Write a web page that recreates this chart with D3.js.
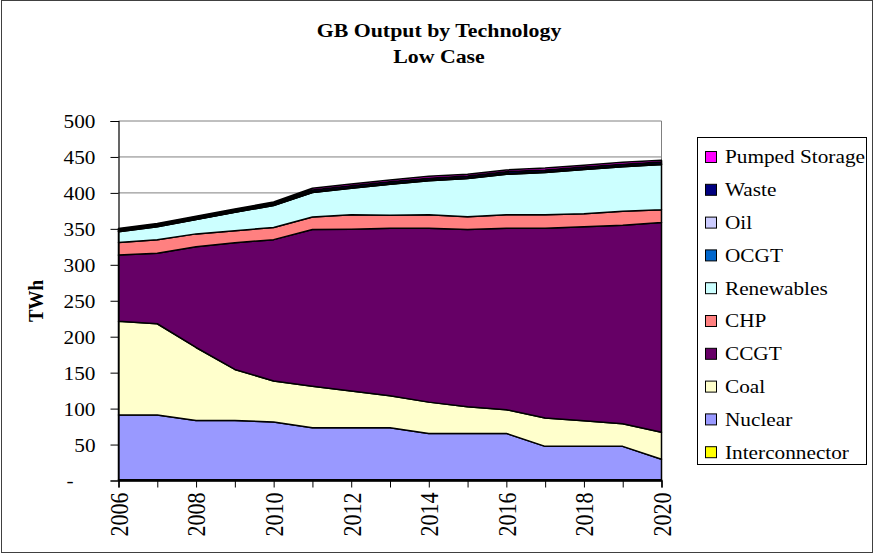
<!DOCTYPE html>
<html>
<head>
<meta charset="utf-8">
<script src="https://cdn.jsdelivr.net/npm/d3@7"></script>
<style>
  html, body { margin: 0; padding: 0; background: #fff; }
  svg { display: block; }
  text { font-family: "Liberation Serif", "Times New Roman", serif; fill: #000; }
</style>
</head>
<body>
<svg id="chart" width="874" height="555"></svg>
<script>
// ---- data ----
const years = [2006, 2007, 2008, 2009, 2010, 2011, 2012, 2013, 2014, 2015, 2016, 2017, 2018, 2019, 2020];
const interconnector = [1, 1, 1, 1, 1, 1, 1, 1, 1, 1, 1, 1, 1, 1, 1];
const nuclear = [90, 90, 82.5, 82.5, 80.5, 72.5, 72.5, 72.5, 64.5, 64.5, 64.5, 46.5, 46.5, 46.5, 28.5];
const coal = [130.5, 127, 101.5, 71, 57, 57.5, 51, 44.5, 43.5, 37, 33, 39.5, 35.5, 31.5, 37.5];
const ccgt = [92, 98, 140, 176, 196.5, 218, 225, 233, 242, 246.5, 252.5, 264, 270, 276, 292];
const chp = [17.5, 19, 18, 17, 17, 17.5, 20, 18, 18.5, 18, 18.5, 18.5, 18, 19.5, 17.5];
const renewables = [15, 18, 20, 25.5, 30.5, 34, 37, 43, 47.5, 53, 56.5, 59, 61.5, 62, 63];
const ocgt = [0.5, 0.5, 0.5, 0.5, 0.5, 0.5, 0.5, 0.5, 0.5, 0.5, 0.5, 0.5, 0.5, 0.5, 0.5];
const oil = [1.5, 1.5, 1.5, 1.5, 1, 0.5, 0.5, 0.5, 0.5, 0.5, 0.5, 0.5, 0.5, 0.5, 0.5];
const waste = [1.5, 1.5, 1.5, 1.5, 2, 2.5, 2.5, 2.5, 2.5, 2.5, 2.5, 2.5, 2.5, 2.5, 2.5];
const pumpedStorage = [1, 1, 1, 1, 1.5, 2.5, 2.5, 2.5, 2.5, 2.5, 2.5, 2.5, 2.5, 2.5, 2.5];

// series bottom -> top
const seriesNames = ["Interconnector", "Nuclear", "Coal", "CCGT", "CHP", "Renewables", "OCGT", "Oil", "Waste", "Pumped Storage"];
const seriesValues = [interconnector, nuclear, coal, ccgt, chp, renewables, ocgt, oil, waste, pumpedStorage];
const seriesColors = ["#FFFF00", "#9999FF", "#FFFFCC", "#660066", "#FF8080", "#CCFFFF", "#0066CC", "#CCCCFF", "#000080", "#FF00FF"];

const yTicks = [0, 50, 100, 150, 200, 250, 300, 350, 400, 450, 500];
const yTickLabels = ["-", "50", "100", "150", "200", "250", "300", "350", "400", "450", "500"];
const xLabelYears = [2006, 2008, 2010, 2012, 2014, 2016, 2018, 2020];

const titleLines = ["GB Output by Technology", "Low Case"];
const yAxisTitle = "TWh";

// ---- build ----
const svg = d3.select("#chart");
const SX = 1.15; // horizontal stretch of text in the reference

svg.append("rect").attr("x", 1.5).attr("y", 0.5).attr("width", 871).attr("height", 552)
  .attr("fill", "#fff").attr("stroke", "#404040").attr("stroke-width", 1);

const x = d3.scaleLinear().domain([2006, 2020]).range([118.5, 661.5]);
const y = d3.scaleLinear().domain([0, 500]).range([480.5, 121]);

// gridlines
svg.append("g").selectAll("line").data(yTicks.filter(d => d > 0)).join("line")
  .attr("x1", x(2006)).attr("x2", x(2020))
  .attr("y1", d => y(d)).attr("y2", d => y(d))
  .attr("stroke", "#808080").attr("stroke-width", 1);
svg.append("line").attr("x1", x(2020)).attr("x2", x(2020)).attr("y1", y(500)).attr("y2", y(0))
  .attr("stroke", "#808080").attr("stroke-width", 1);

// stacked areas
const rows = years.map((yr, i) => {
  const r = { year: yr };
  seriesNames.forEach((n, k) => { r[n] = seriesValues[k][i]; });
  return r;
});
const stack = d3.stack().keys(seriesNames);
const stacked = stack(rows);
const area = d3.area()
  .x(d => x(d.data.year))
  .y0(d => y(d[0]))
  .y1(d => y(d[1]));

svg.append("g").selectAll("path").data(stacked).join("path")
  .attr("d", area)
  .attr("fill", (d, i) => seriesColors[i])
  .attr("stroke", "#000")
  .attr("stroke-width", 1.5)
  .attr("stroke-linejoin", "round");

// y axis
const yAxis = svg.append("g").attr("transform", "translate(118.5,0)")
  .call(d3.axisLeft(y).tickValues(yTicks).tickSize(8).tickPadding(0)
    .tickFormat((d, i) => yTickLabels[i]));
yAxis.select(".domain").attr("stroke", "#000").attr("stroke-width", 1.2);
yAxis.selectAll(".tick line").attr("stroke", "#000");
yAxis.selectAll(".tick text")
  .attr("x", d => (d === 0 ? -45 : -23) / SX)
  .attr("dy", "0.35em")
  .attr("transform", `scale(${SX},1)`)
  .style("font-size", "18.5px")
  .style("font-family", "'Liberation Serif', 'Times New Roman', serif");

// x axis
const xAxis = svg.append("g").attr("transform", "translate(0,480.5)")
  .call(d3.axisBottom(x).tickValues(years).tickSize(7)
    .tickFormat(d => xLabelYears.includes(d) ? String(d) : ""));
xAxis.select(".domain").attr("stroke", "#000").attr("stroke-width", 1.5);
xAxis.selectAll(".tick line").attr("stroke", "#000");
xAxis.selectAll(".tick text")
  .attr("x", -12).attr("y", 0).attr("dy", "0.35em")
  .attr("text-anchor", "end")
  .attr("transform", `scale(${SX},1) rotate(-90)`)
  .style("font-size", "22px")
  .style("font-family", "'Liberation Serif', 'Times New Roman', serif");

// y axis title
svg.append("text")
  .attr("transform", `translate(35,301) scale(${SX},1) rotate(-90)`)
  .attr("text-anchor", "middle").attr("dy", "0.35em")
  .style("font-size", "19px").style("font-weight", "bold")
  .text(yAxisTitle);

// title
titleLines.forEach((t, i) => {
  svg.append("text")
    .attr("transform", `translate(439,${37.3 + i * 26}) scale(${SX},1)`)
    .attr("text-anchor", "middle")
    .style("font-size", "19px").style("font-weight", "bold")
    .text(t);
});

// legend
const legend = svg.append("g");
legend.append("rect").attr("x", 697.5).attr("y", 137.5).attr("width", 169).attr("height", 327)
  .attr("fill", "#fff").attr("stroke", "#000").attr("stroke-width", 1);
const legendOrder = seriesNames.map((n, i) => i).reverse();
legendOrder.forEach((k, j) => {
  const cy = 157 + j * 32.8;
  legend.append("rect").attr("x", 705.5).attr("y", cy - 5.5).attr("width", 11).attr("height", 11)
    .attr("fill", seriesColors[k]).attr("stroke", "#000").attr("stroke-width", 1);
  legend.append("text")
    .attr("transform", `translate(725,${cy + 6.3}) scale(${SX},1)`)
    .style("font-size", "18.5px")
    .text(seriesNames[k]);
});
</script>
</body>
</html>
